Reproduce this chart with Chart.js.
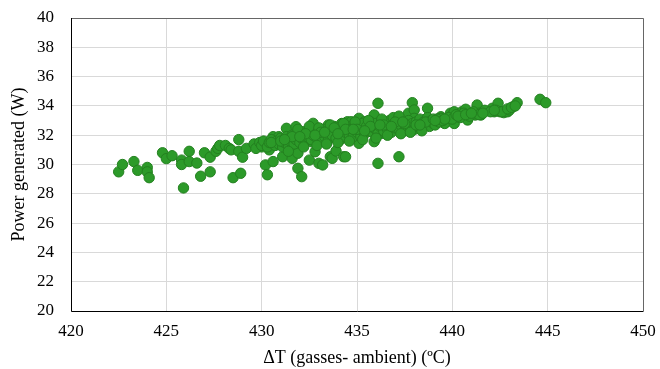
<!DOCTYPE html>
<html>
<head>
<meta charset="utf-8">
<script src="https://cdn.jsdelivr.net/npm/chart.js@4/dist/chart.umd.min.js"></script>
<style>
html,body{margin:0;padding:0;background:#fff;}
#wrap{width:660px;height:369px;position:relative;}
</style>
</head>
<body>
<div id="wrap"><canvas id="c" width="660" height="369"></canvas></div>
<script>
// ΔT (gasses - ambient) in ºC
const deltaT = [
422.5,422.7,423.3,423.5,424.0,424.0,424.1,424.8,425.0,425.3,425.8,425.8,425.9,426.2,426.2,426.6,426.8,427.0,427.3,427.3,427.6,427.7,427.8,428.1,428.3,428.4,428.5,428.8,428.8,428.9,429.0,429.2,
429.8,430.0,430.3,430.4,430.2,430.3,430.6,430.6,430.9,431.1,431.3,431.5,431.6,431.8,431.7,431.9,431.9,432.1,432.2,432.1,432.7,432.6,432.5,432.8,433.0,433.2,433.2,433.5,433.6,433.7,433.7,433.9,434.1,434.2,433.9,434.3,434.5,
434.2,434.4,434.7,435.1,435.2,435.1,435.4,435.5,435.9,435.9,436.1,436.1,436.3,436.5,436.9,437.1,437.2,437.3,437.6,437.7,437.9,438.0,438.0,438.2,438.5,438.7,438.8,439.2,439.4,439.7,439.9,
439.4,439.6,439.9,440.1,440.1,440.5,440.7,440.8,440.8,441.2,441.3,441.4,441.5,442.1,442.2,442.4,442.5,442.7,442.9,443.0,443.2,443.4,444.6,444.9,
429.6,429.7,429.9,430.0,430.1,430.3,430.4,430.5,430.7,430.8,430.9,431.0,431.1,431.2,431.3,431.4,431.5,431.6,431.7,431.8,431.9,432.0,432.1,432.2,432.3,432.4,432.5,432.6,432.7,432.8,432.9,433.0,433.1,433.2,433.3,433.4,433.5,433.6,433.7,433.8,433.9,434.0,434.1,434.2,434.3,434.4,434.5,434.6,434.7,434.8,434.9,435.0,435.1,435.2,435.3,435.4,435.5,435.6,435.7,435.8,435.9,436.0,436.1,436.2,436.3,436.4,436.5,436.6,436.7,436.8,436.9,437.0,437.1,437.2,437.3,437.4,437.5,437.6,437.7,437.8,437.9,438.0,438.1,438.2,438.3,438.4,438.5,438.6,438.7,438.8,438.9,439.0,439.1,439.2,439.3,439.5,439.8,440.0,440.2,440.4,440.6,440.9,441.1,441.4,441.7,442.0,442.3,442.6,442.9,443.1,443.3,
431.4,432.2,432.9,433.4,434.0,434.6,435.3,436.0,436.6,437.3,437.8,438.4,
431.9,432.5,433.0,433.6,434.3,434.9,435.6,436.3,436.9,437.2,
430.5,431.0,431.6,432.3,433.1,433.8,434.4,435.0,435.7,436.4,437.0,437.5,438.1,438.6,439.0,439.6,440.3,440.7,441.0,441.6,442.2,
431.2,432.0,432.8,433.3,434.0,434.8,435.4,436.2,436.8,437.4,438.3,439.1
];
// Power generated in W
const power = [
29.5,30.0,30.2,29.6,29.8,29.5,29.1,30.8,30.4,30.6,30.3,30.0,28.4,30.9,30.2,30.1,29.2,30.8,30.5,29.5,30.9,31.1,31.3,31.3,31.1,31.0,29.1,31.7,30.9,29.4,30.5,31.1,
31.33,31.2,31.45,31.0,29.97,29.3,30.2,31.9,31.9,30.53,32.47,31.67,30.42,32.58,31.1,30.77,29.74,29.17,32.24,31.56,32.81,31.56,30.3,30.87,30.08,29.97,32.24,32.7,30.53,30.42,32.01,32.24,31.67,32.7,30.92,30.53,32.92,
32.8,30.53,32.92,33.15,32.24,31.45,32.92,32.35,31.56,33.38,34.18,30.08,32.13,32.7,32.58,32.92,30.53,32.35,32.7,33.5,34.22,33.72,33.15,32.8,32.8,33.84,32.8,33.04,33.26,32.92,33.5,
33.15,32.8,33.26,33.6,32.8,33.6,33.77,33.15,33.04,33.38,34.06,33.5,33.38,33.84,33.6,34.18,33.6,33.54,33.6,33.72,33.95,34.22,34.45,34.22,
31.4,31.1,31.5,31.3,31.6,31.2,31.5,31.7,31.3,31.6,31.4,31.8,31.2,31.5,31.9,31.3,31.6,32.0,31.4,31.7,32.1,31.5,31.8,32.0,31.6,31.9,32.2,31.7,32.0,32.3,31.8,32.1,31.6,32.4,31.9,32.2,31.7,32.4,32.0,32.6,31.8,32.3,32.0,32.5,31.9,32.2,32.6,32.0,32.4,31.9,32.7,32.2,32.5,31.9,32.8,32.1,32.6,32.3,32.9,32.2,32.5,32.8,32.1,32.6,32.9,32.3,32.7,32.4,33.0,32.2,32.8,32.5,33.1,32.4,32.7,32.9,32.3,32.6,33.0,32.5,32.8,32.4,32.9,32.6,33.1,32.5,32.9,32.7,33.2,32.6,33.0,32.8,32.7,33.1,32.9,33.0,33.2,33.1,33.4,33.2,33.5,33.3,33.6,33.4,33.7,33.6,33.7,33.6,33.8,33.9,34.0,
30.9,31.2,31.3,31.4,31.5,31.6,31.7,31.8,32.0,32.1,32.2,32.3,
32.4,32.6,32.5,32.7,32.8,32.9,33.0,33.1,33.2,33.3,
31.5,31.6,31.9,32.1,32.2,32.5,32.4,32.4,32.6,32.7,32.9,32.8,32.7,32.9,33.1,33.1,33.3,33.4,33.5,33.5,33.7,
31.7,31.9,32.0,32.2,32.1,32.4,32.3,32.7,32.6,32.9,32.7,33.0
];
const xTicks = [420,425,430,435,440,445,450];
const yTicks = [20,22,24,26,28,30,32,34,36,38,40];

const points = deltaT.map((x,i)=>({x:x, y:power[i]}));

const frame = {
  id:'frame',
  afterDraw(chart){
    const a = chart.chartArea, ctx = chart.ctx;
    ctx.save();
    ctx.lineWidth = 1;
    ctx.strokeStyle = '#666';
    ctx.beginPath();
    ctx.moveTo(a.left, a.top+0.5); ctx.lineTo(a.right+0.5, a.top+0.5);
    ctx.lineTo(a.right+0.5, a.bottom);
    ctx.stroke();
    ctx.strokeStyle = '#000';
    ctx.beginPath();
    ctx.moveTo(a.left+0.5, a.top); ctx.lineTo(a.left+0.5, a.bottom+0.5);
    ctx.lineTo(a.right+0.5, a.bottom+0.5);
    ctx.stroke();
    ctx.restore();
  }
};

new Chart(document.getElementById('c'), {
  type:'scatter',
  data:{datasets:[{
    data:points,
    backgroundColor:'#2c9a29',
    borderColor:'#23801f',
    borderWidth:1,
    pointRadius:5.2,
    pointHoverRadius:5.2
  }]},
  options:{
    responsive:false,
    animation:false,
    layout:{padding:{left:0,right:17,top:18,bottom:0}},
    plugins:{legend:{display:false},tooltip:{enabled:false}},
    scales:{
      x:{
        type:'linear', min:420, max:450,
        afterBuildTicks(s){ s.ticks = xTicks.map(v=>({value:v})); },
        afterFit(s){ s.height = 58; },
        grid:{color:'#d9d9d9', drawTicks:false},
        border:{display:false},
        ticks:{color:'#000', padding:10, maxRotation:0, font:{family:'"Liberation Serif", "Times New Roman", serif', size:17}},
        title:{display:true, text:'ΔT (gasses- ambient) (ºC)', color:'#000', padding:{top:0,bottom:0}, font:{family:'"Liberation Serif", "Times New Roman", serif', size:18}}
      },
      y:{
        min:20, max:40,
        afterBuildTicks(s){ s.ticks = yTicks.map(v=>({value:v})); },
        afterFit(s){ s.width = 71; },
        grid:{color:'#d9d9d9', drawTicks:false},
        border:{display:false},
        ticks:{color:'#000', padding:17, font:{family:'"Liberation Serif", "Times New Roman", serif', size:17}},
        title:{display:true, text:'Power generated (W)', color:'#000', padding:{top:8,bottom:0}, font:{family:'"Liberation Serif", "Times New Roman", serif', size:18}}
      }
    }
  },
  plugins:[frame, {
    id:'fixArea',
    afterLayout(chart){
      // align plot area with the reference frame
      const a = chart.chartArea;
      a.left = 71; a.right = 643; a.top = 18; a.bottom = 311;
      a.width = a.right - a.left; a.height = a.bottom - a.top;
      const sx = chart.scales.x, sy = chart.scales.y;
      sx.left = 71; sx.right = 643; sx.width = 572; sx.top = 311; sx.bottom = 369; sx.height = 58;
      sy.top = 18; sy.bottom = 311; sy.height = 293; sy.left = 0; sy.right = 71; sy.width = 71;
      sx.configure(); sy.configure();
    }
  }]
});
</script>
</body>
</html>
